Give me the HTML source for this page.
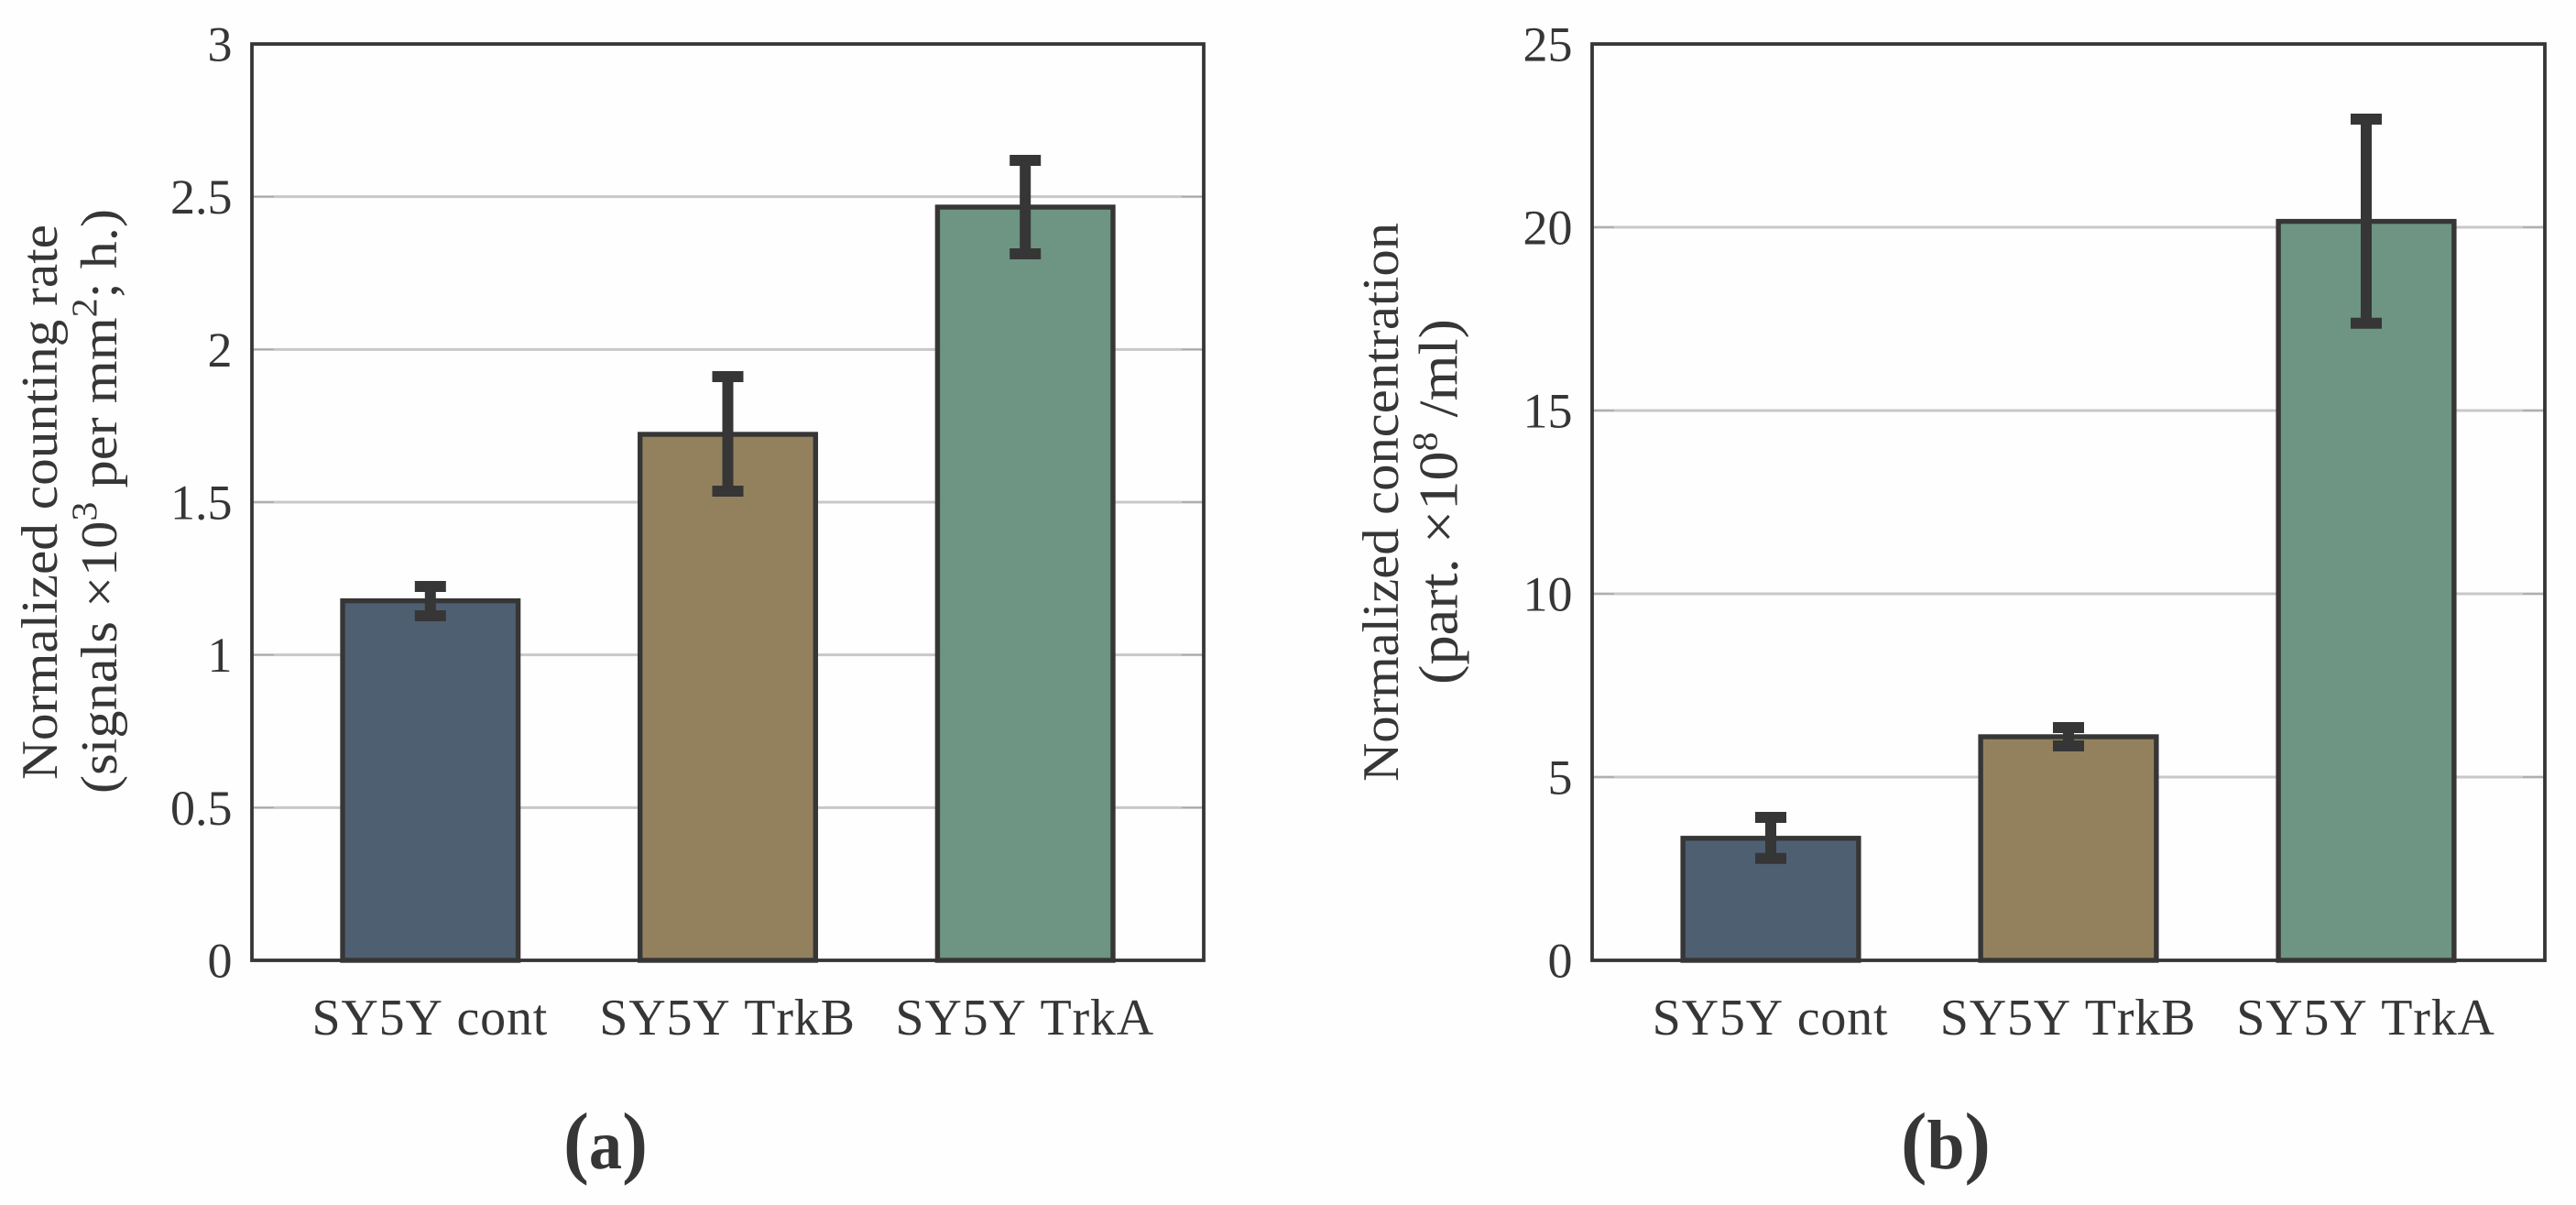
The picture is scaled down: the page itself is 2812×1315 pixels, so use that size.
<!DOCTYPE html>
<html lang="en">
<head>
<meta charset="utf-8">
<title>Normalized counting rate and concentration</title>
<style>
  html, body { margin: 0; padding: 0; background: #fefefe; }
  body { width: 2812px; height: 1315px; overflow: hidden; }
  svg { display: block; }
  text { font-family: "Liberation Serif", serif; fill: #363636; }
  .tick-label { font-size: 54px; text-anchor: end; }
  .x-label { font-size: 56px; text-anchor: middle; letter-spacing: 0.8px; font-kerning: none; }
  .axis-title { font-size: 56px; }
  .caption { font-size: 76px; font-weight: bold; }
  .caption-paren { font-size: 88px; }
</style>
</head>
<body>
<svg id="figure" xmlns="http://www.w3.org/2000/svg" width="2812" height="1315" viewBox="0 0 2812 1315">
  <g id="panel-a"></g>
  <g id="panel-b"></g>

  <text class="axis-title" transform="translate(62,851) rotate(-90)" textLength="606" lengthAdjust="spacingAndGlyphs">Normalized counting rate</text>
  <text class="axis-title" transform="translate(127,866) rotate(-90)" textLength="638" lengthAdjust="spacingAndGlyphs">(signals ×10<tspan font-size="39" dy="-22">3</tspan><tspan dy="22"> per mm</tspan><tspan font-size="39" dy="-22">2</tspan><tspan dy="22">; h.)</tspan></text>

  <text class="axis-title" transform="translate(1526,853) rotate(-90)" textLength="610" lengthAdjust="spacingAndGlyphs">Normalized concentration</text>
  <text class="axis-title" style="font-size:60px" transform="translate(1590.5,747) rotate(-90)" textLength="399" lengthAdjust="spacingAndGlyphs">(part. ×10<tspan font-size="39" dy="-22">8</tspan><tspan dy="22"> /ml)</tspan></text>

  <text class="caption" x="615" y="1275" textLength="92" lengthAdjust="spacingAndGlyphs"><tspan class="caption-paren">(</tspan>a<tspan class="caption-paren">)</tspan></text>
  <text class="caption" x="2075" y="1275" textLength="98" lengthAdjust="spacingAndGlyphs"><tspan class="caption-paren">(</tspan>b<tspan class="caption-paren">)</tspan></text>
</svg>

<script>
const categories = ['SY5Y cont', 'SY5Y TrkB', 'SY5Y TrkA'];

const countingRate = [1.177, 1.722, 2.466];
const countingRateLow = [1.128, 1.536, 2.313];
const countingRateHigh = [1.224, 1.911, 2.619];
const countingTicks = [0, 0.5, 1, 1.5, 2, 2.5, 3];
const countingTickLabels = ['0', '0.5', '1', '1.5', '2', '2.5', '3'];

const concentration = [3.33, 6.1, 20.16];
const concentrationLow = [2.78, 5.85, 17.38];
const concentrationHigh = [3.9, 6.35, 22.95];
const concentrationTicks = [0, 5, 10, 15, 20, 25];
const concentrationTickLabels = ['0', '5', '10', '15', '20', '25'];

const barColors = ['#4f5f72', '#93815e', '#6e9483'];
const SVG_NS = 'http://www.w3.org/2000/svg';

function addNode(parent, tag, attrs, text) {
  const el = document.createElementNS(SVG_NS, tag);
  Object.keys(attrs).forEach(function (k) { el.setAttribute(k, attrs[k]); });
  if (text !== undefined) el.textContent = text;
  parent.appendChild(el);
  return el;
}

function drawPanel(id, box, yMax, values, low, high, ticks, tickLabels) {
  const g = document.getElementById(id);
  const xScale = function (i) { return box.left + (i + 0.6) * (box.right - box.left) / 3.2; };
  const yScale = function (v) { return box.bottom - v * (box.bottom - box.top) / yMax; };
  const unit = (box.right - box.left) / 3.2;
  const barWidth = unit * 0.59;

  ticks.forEach(function (t, i) {
    const y = yScale(t);
    if (t > 0 && t < yMax) {
      const grid = addNode(g, 'line', { x1: box.left, x2: box.right, y1: y, y2: y, stroke: '#c8c8c8', 'stroke-width': 3 });
      
      
      const tickL = addNode(g, 'line', { x1: box.left, x2: box.left + 24, y1: y, y2: y, stroke: '#a0a0a0', 'stroke-width': 1.2 });
      
      
      const tickR = addNode(g, 'line', { x1: box.right - 24, x2: box.right, y1: y, y2: y, stroke: '#a0a0a0', 'stroke-width': 1.2 });
      
      
    }
    const label = addNode(g, 'text', { class: 'tick-label', x: box.left - 21.5, y: y + 18.5 }, tickLabels[i]);
    
    
  });

  values.forEach(function (v, i) {
    const cx = xScale(i);
    const top = yScale(v);
    const bar = addNode(g, 'rect', {
      x: cx - barWidth / 2, y: top, width: barWidth, height: box.bottom - top,
      fill: barColors[i], stroke: '#363636', 'stroke-width': 5.4
    });
    
    

    const stem = addNode(g, 'line', { x1: cx, x2: cx, y1: yScale(high[i]), y2: yScale(low[i]), stroke: '#363636', 'stroke-width': 12 });
    
    
    const capHigh = addNode(g, 'line', { x1: cx - 17, x2: cx + 17, y1: yScale(high[i]), y2: yScale(high[i]), stroke: '#363636', 'stroke-width': 12 });
    
    
    const capLow = addNode(g, 'line', { x1: cx - 17, x2: cx + 17, y1: yScale(low[i]), y2: yScale(low[i]), stroke: '#363636', 'stroke-width': 12 });
    
    

    const label = addNode(g, 'text', { class: 'x-label', x: cx - 0.5, y: box.bottom + 81 }, categories[i]);
    
    
  });

  const frame = addNode(g, 'rect', {
    x: box.left, y: box.top, width: box.right - box.left, height: box.bottom - box.top,
    fill: 'none', stroke: '#363636', 'stroke-width': 3.8
  });
  
  
}

drawPanel('panel-a', { left: 275, right: 1314, top: 48, bottom: 1048 }, 3,
  countingRate, countingRateLow, countingRateHigh, countingTicks, countingTickLabels);
drawPanel('panel-b', { left: 1738, right: 2778, top: 48, bottom: 1048 }, 25,
  concentration, concentrationLow, concentrationHigh, concentrationTicks, concentrationTickLabels);
</script>
</body>
</html>
